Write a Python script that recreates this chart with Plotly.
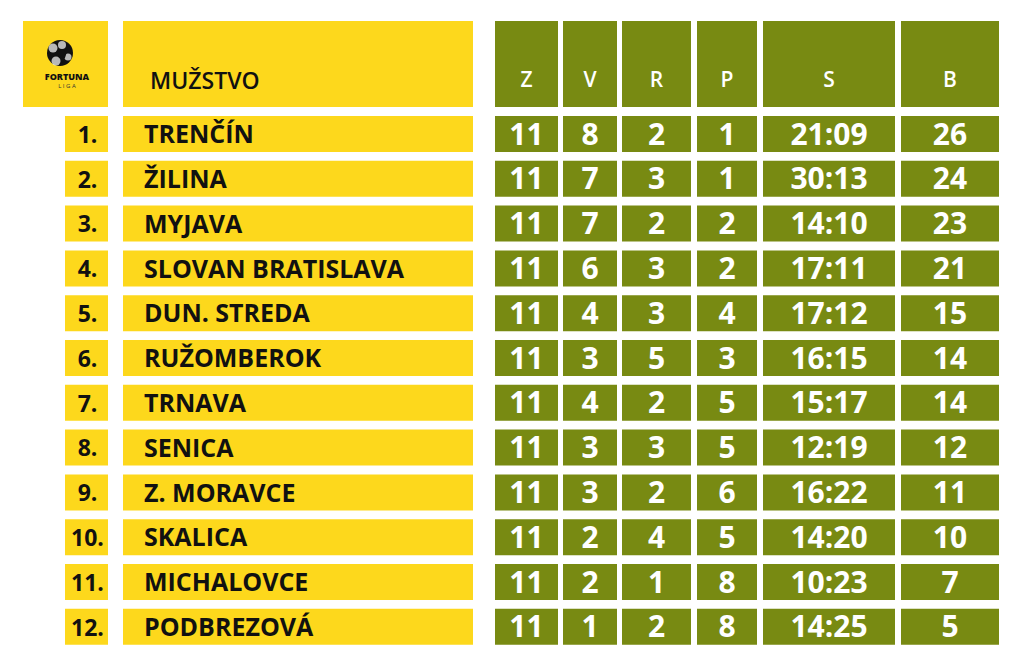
import plotly.graph_objects as go

# league table data
ranks = ["1.", "2.", "3.", "4.", "5.", "6.", "7.", "8.", "9.", "10.", "11.", "12."]
teams = ["TRENČÍN", "ŽILINA", "MYJAVA", "SLOVAN BRATISLAVA", "DUN. STREDA", "RUŽOMBEROK",
         "TRNAVA", "SENICA", "Z. MORAVCE", "SKALICA", "MICHALOVCE", "PODBREZOVÁ"]
played = [11, 11, 11, 11, 11, 11, 11, 11, 11, 11, 11, 11]
wins = [8, 7, 7, 6, 4, 3, 4, 3, 3, 2, 2, 1]
draws = [2, 3, 2, 3, 3, 5, 2, 3, 2, 4, 1, 2]
losses = [1, 1, 2, 2, 4, 3, 5, 5, 6, 5, 8, 8]
score = ["21:09", "30:13", "14:10", "17:11", "17:12", "16:15",
         "15:17", "12:19", "16:22", "14:20", "10:23", "14:25"]
points = [26, 24, 23, 21, 15, 14, 14, 12, 11, 10, 7, 5]
stat_headers = ["Z", "V", "R", "P", "S", "B"]
team_header = "MUŽSTVO"

# layout (page pixels, page body has an 8px margin)
PAGE_OFF = 8
YELLOW = "#FDD81C"
GREEN = "#788A12"
FONT = "Open Sans"
ROW_TOP, ROW_STEP, ROW_H = 116, 44.8, 36
HEAD_TOP, HEAD_H = 21, 86
TXT_DY = 3  # plotly puts "middle" text a little high
rank_col = (65, 108)
logo_col = (23, 108)
team_col = (123, 473)
stat_cols = [(495, 558), (563, 617), (622, 691), (697, 757), (763, 895), (901, 999)]

n = len(teams)
row_c = [ROW_TOP + ROW_STEP * i + ROW_H / 2 for i in range(n)]
row_t = [y + TXT_DY for y in row_c]
head_c = HEAD_TOP + HEAD_H / 2

fig = go.Figure()


def cells(col, ys, h, color):
    x0, x1 = col
    fig.add_trace(go.Bar(orientation="h", y=ys, x=[x1 - x0] * len(ys), base=[x0] * len(ys),
                         width=h, marker=dict(color=color, line=dict(width=0)),
                         hoverinfo="skip", showlegend=False))


def texts(xs, ys, labels, size, color, weight="bold", pos="middle center"):
    fig.add_trace(go.Scatter(x=xs, y=ys, text=labels, mode="text", textposition=pos,
                             textfont=dict(family=FONT, size=size, color=color, weight=weight),
                             hoverinfo="skip", showlegend=False))


# header cells
cells(logo_col, [head_c], HEAD_H, YELLOW)
cells(team_col, [head_c], HEAD_H, YELLOW)
for col in stat_cols:
    cells(col, [head_c], HEAD_H, GREEN)

# body cells
cells(rank_col, row_c, ROW_H, YELLOW)
cells(team_col, row_c, ROW_H, YELLOW)
for col in stat_cols:
    cells(col, row_c, ROW_H, GREEN)

# header text
texts([team_col[0] + 27], [head_c + 19], [team_header], 23, "#111111", 600, "middle right")
texts([(a + b) / 2 for a, b in stat_cols], [head_c + 18] * 6, stat_headers, 21, "white", 600)

# body text
texts([(rank_col[0] + rank_col[1]) / 2 + 1] * n, row_t, ranks, 23, "#111111")
texts([team_col[0] + 21] * n, row_t, teams, 25, "#111111", "bold", "middle right")
columns = [played, wins, draws, losses, score, points]
for col, vals in zip(stat_cols, columns):
    texts([(col[0] + col[1]) / 2] * n, row_t, [str(v) for v in vals], 30, "white")

# logo: little ball + wordmark
lx, ly = 60, 53
fig.add_trace(go.Scatter(x=[lx], y=[ly], mode="markers",
                         marker=dict(symbol="circle", size=26, color="#111111", line=dict(width=0)),
                         hoverinfo="skip", showlegend=False))
fig.add_trace(go.Scatter(x=[lx - 7, lx + 2, lx + 8, lx - 4], y=[ly - 5, ly - 8, ly + 4, ly + 8],
                         mode="markers",
                         marker=dict(symbol="circle", size=[9, 8, 7, 9], color="white", line=dict(width=0)),
                         hoverinfo="skip", showlegend=False))
fig.add_trace(go.Scatter(x=[lx + 2], y=[ly + 1], mode="markers",
                         marker=dict(symbol="pentagon", size=10, color="#111111", line=dict(width=0)),
                         hoverinfo="skip", showlegend=False))
texts([67], [78], ["FORTUNA"], 9, "#111111", 900)
texts([67], [86], ["L I G A"], 6, "#333333", "normal")

fig.update_layout(
    width=1024 - 2 * PAGE_OFF, height=664 - 2 * PAGE_OFF,
    margin=dict(l=0, r=0, t=0, b=0),
    paper_bgcolor="white", plot_bgcolor="white",
    barmode="overlay",
    xaxis=dict(range=[PAGE_OFF, 1024 - PAGE_OFF], visible=False, fixedrange=True),
    yaxis=dict(range=[664 - PAGE_OFF, PAGE_OFF], visible=False, fixedrange=True),
)

fig.write_html("out.html")
